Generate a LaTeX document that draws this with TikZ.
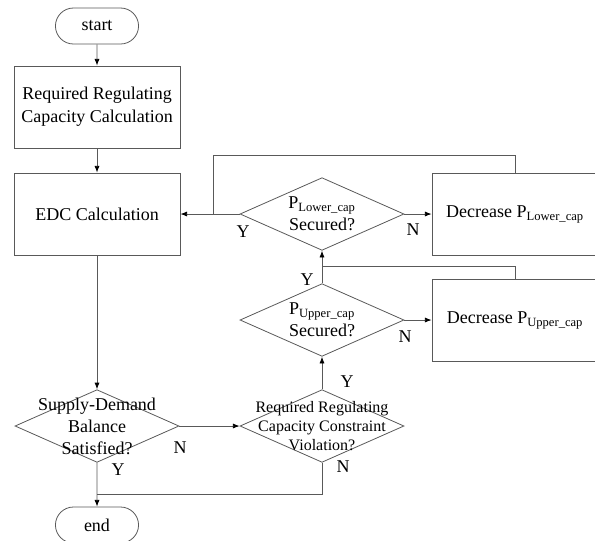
\documentclass[tikz,border=0pt]{standalone}
\usepackage{fontspec}
\setmainfont{Liberation Serif}
\usetikzlibrary{arrows.meta, shapes.geometric, shapes.misc}

\begin{document}
\begin{tikzpicture}[
        x = 0.75pt, y = -0.75pt, % one unit per pixel, y downwards
        > = {Latex[length=5pt, width=3.8pt, color=black]}, % arrow head style
        line width = 0.6pt, % line style
        flow/.style = {draw=black!65},
        term/.style = {rounded rectangle, draw=black!65, minimum width=69pt,
            minimum height=27pt, font=\fontsize{13.5}{17}\selectfont},
        proc/.style = {rectangle, draw=black!65, minimum width=124.5pt,
            minimum height=61.5pt, align=center, font=\fontsize{13.5}{17}\selectfont},
        test/.style = {diamond, draw=black!65, minimum width=123pt,
            minimum height=54.5pt, inner sep=0pt},
        inside/.style = {align=center, font=\fontsize{13.5}{16.5}\selectfont},
        answer/.style = {inner sep=0pt, font=\fontsize{13.5}{16}\selectfont},
    ]
        \useasboundingbox (0,0) rectangle (595,540);

        % Draw the nodes
        \node[term] (start) at (97,26) {start};
        \node[proc] (calc) at (97,107) {Required Regulating\\Capacity Calculation};
        \node[proc] (edc) at (97,214) {EDC Calculation};
        \node[test, label={[inside]center:Supply-Demand\\Balance\\Satisfied?}]
            (sd) at (97,426) {};
        \node[test, label={[inside, font=\fontsize{12}{14}\selectfont]center:Required Regulating\\Capacity Constraint\\Violation?}]
            (rrc) at (322,426) {};
        \node[test, label={[inside]center:P\textsubscript{Upper\_cap}\\Secured?}]
            (upper) at (322,320) {};
        \node[test, label={[inside]center:P\textsubscript{Lower\_cap}\\Secured?}]
            (lower) at (322,214) {};
        \node[proc] (decup) at (515,320) {Decrease P\textsubscript{Upper\_cap}};
        \node[proc] (declow) at (515,214) {Decrease P\textsubscript{Lower\_cap}};
        \node[term] (end) at (97,525) {end};

        % Draw the answers
        \foreach \pos/\i/\t in {
            (180,448)/nSD/N,
            (118,470)/ySD/Y,
            (343,467)/nRRC/N,
            (347,382)/yRRC/Y,
            (405,337)/nUp/N,
            (307,280)/yUp/Y,
            (413,230)/nLow/N,
            (243,232)/yLow/Y} {
            \node[answer] (\i) at \pos {\t};
        }

        % Points where the loops join
        \coordinate (joinEnd) at (97,494);
        \coordinate (joinUp) at (322,266);
        \coordinate (topLow) at (213,155);
        \coordinate (joinLow) at (213,214);

        % Draw the edges
        \foreach \b/\e in {
            start/calc,
            calc/edc,
            edc/sd,
            sd/end,
            sd/rrc,
            rrc/upper,
            upper/lower,
            upper/decup,
            lower/declow,
            lower/edc} {
            \draw[flow, ->] (\b) to (\e);
        }
        \draw[flow] (rrc.south) |- (joinEnd);
        \draw[flow] (decup.north) |- (joinUp);
        \draw[flow] (declow.north) |- (topLow) -- (joinLow);
    \end{tikzpicture}
\end{document}
